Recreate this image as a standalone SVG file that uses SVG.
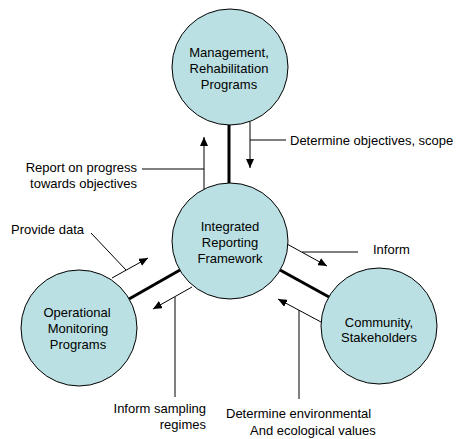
<svg xmlns="http://www.w3.org/2000/svg" width="456" height="439" viewBox="0 0 456 439">
<style>
.node circle{fill:#bbe0e3;stroke:#000;stroke-width:1}
text{font-family:"Liberation Sans",Arial,sans-serif;font-size:13px;fill:#000}
.c{text-anchor:middle}
.e{text-anchor:end}
.thick{stroke:#000;stroke-width:3;fill:none}
.thin{stroke:#000;stroke-width:1;fill:none}
.arr{stroke:#000;stroke-width:1;fill:none;marker-end:url(#ah)}
</style>
<defs>
<marker id="ah" markerUnits="userSpaceOnUse" markerWidth="10" markerHeight="8" refX="9" refY="4" orient="auto">
<path d="M0,0 L9,4 L0,8 z" fill="#000"/>
</marker>
</defs>
<rect width="456" height="439" fill="#fff"/>
<g id="connectors">
<line class="thick" x1="229" y1="125" x2="229" y2="183"/>
<line class="thick" x1="180" y1="270" x2="129" y2="299"/>
<line class="thick" x1="280" y1="270" x2="329" y2="297"/>
<line class="arr" x1="204" y1="189" x2="204" y2="137"/>
<line class="thin" x1="142" y1="169" x2="204" y2="169"/>
<line class="arr" x1="250" y1="122" x2="250" y2="168"/>
<line class="thin" x1="250" y1="140" x2="286" y2="140"/>
<line class="arr" x1="112" y1="278" x2="148" y2="258"/>
<line class="thin" x1="91" y1="233" x2="126" y2="270"/>
<line class="arr" x1="192" y1="287" x2="153" y2="309"/>
<line class="thin" x1="175" y1="297" x2="175" y2="397"/>
<line class="arr" x1="287" y1="244" x2="327" y2="266"/>
<line class="thin" x1="302" y1="252" x2="358" y2="252"/>
<line class="arr" x1="321" y1="322" x2="278" y2="299"/>
<line class="thin" x1="299" y1="310" x2="299" y2="399"/>
</g>
<g id="mgmt" class="node">
<circle cx="230" cy="67" r="58"/>
<text class="c" x="229" y="57">Management,</text>
<text class="c" x="229" y="73">Rehabilitation</text>
<text class="c" x="229" y="89">Programs</text>
</g>
<g id="irf" class="node">
<circle cx="230" cy="241" r="58"/>
<text class="c" x="230" y="231">Integrated</text>
<text class="c" x="230" y="247">Reporting</text>
<text class="c" x="230" y="263">Framework</text>
</g>
<g id="omp" class="node">
<circle cx="79" cy="328" r="58"/>
<text class="c" x="77" y="317">Operational</text>
<text class="c" x="78" y="333">Monitoring</text>
<text class="c" x="78" y="349">Programs</text>
</g>
<g id="cs" class="node">
<circle cx="379" cy="326" r="58"/>
<text class="c" x="379" y="327">Community,</text>
<text class="c" x="379" y="342">Stakeholders</text>
</g>
<g id="labels">
<text x="290" y="145">Determine objectives, scope</text>
<text class="e" x="137" y="172">Report on progress</text>
<text class="e" x="137" y="188">towards objectives</text>
<text x="11" y="234">Provide data</text>
<text x="373" y="254">Inform</text>
<text class="e" x="206" y="413">Inform sampling</text>
<text class="e" x="206" y="429">regimes</text>
<text x="226" y="418">Determine environmental</text>
<text x="250" y="435">And ecological values</text>
</g>
</svg>
